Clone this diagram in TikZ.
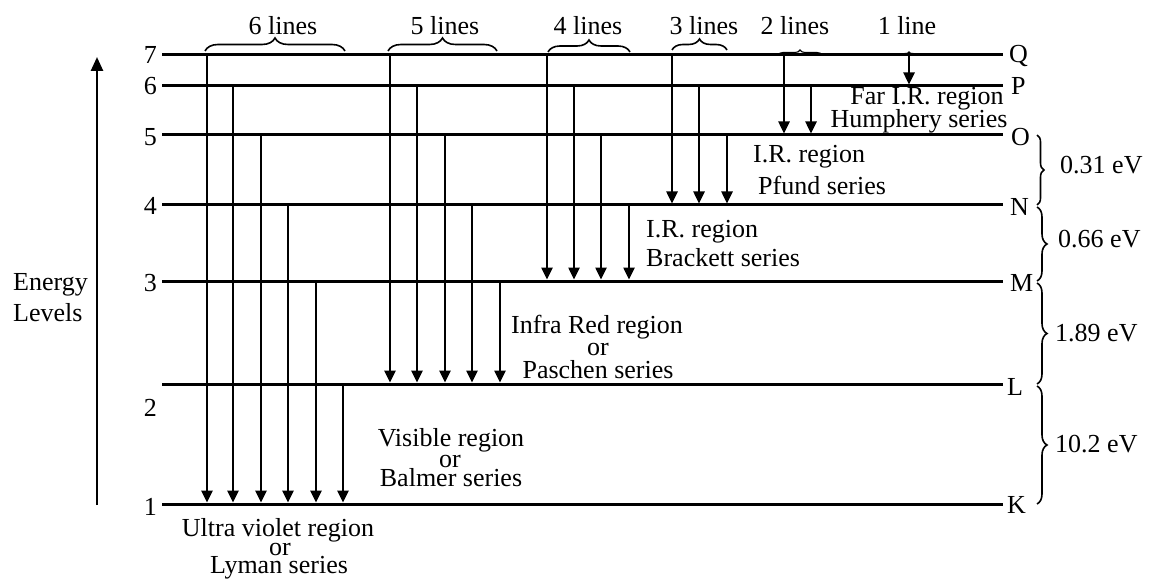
\documentclass[tikz,border=0pt]{standalone}
\usepackage{fontspec}
\setmainfont{Liberation Serif}
\usetikzlibrary{arrows.meta,decorations.pathreplacing}
\begin{document}
\begin{tikzpicture}[x=1pt,y=-1pt,
  txt/.style={inner sep=0pt,font=\fontsize{26}{28}\selectfont},
  lvl/.style={line width=3pt},
  arr/.style={line width=2.5pt,-{Triangle[length=12pt,width=11pt]}},
  axisarr/.style={line width=2.5pt,-{Triangle[length=14pt,width=12pt]}},
  brc/.style={line width=1.6pt,decorate,decoration={brace,amplitude=#1}},
  sbrc/.style={line width=1.1pt,decorate,decoration={brace,amplitude=#1}}]
\useasboundingbox (0,0) rectangle (1151,580);
% level coordinates
\foreach \n/\y in {1/504,2/384,3/281,4/205,5/135,6/86,7/55}{
  \coordinate (l\n) at (162,\y);
  \coordinate (r\n) at (1003,\y);
  \draw[lvl] (l\n) -- (r\n);
}
% left numbers
\foreach \n/\y in {7/55,6/86,5/137,4/206,3/283,2/408,1/507}{
  \node[txt,anchor=east] (num\n) at (157,\y) {\n};
}
% right letters
\foreach \n/\t/\x/\y in {7/Q/1009/56,6/P/1011/86,5/O/1011/137,4/N/1010/207,3/M/1010/283,2/L/1007/387,1/K/1007/505}{
  \node[txt,anchor=west] (let\n) at (\x,\y) {\t};
}
% energy axis
\coordinate (ax0) at (97,505);
\coordinate (ax1) at (97,57);
\draw[axisarr] (ax0) -- (ax1);
\node[txt,anchor=west] (en1) at (13,285) {Energy};
\node[txt,anchor=west] (en2) at (13,313) {Levels};
% transitions: x / from level / to level
\foreach \x/\a/\b/\ye in {
  207/7/1/502.5,233/6/1/502.5,261/5/1/502.5,288/4/1/502.5,316/3/1/502.5,343/2/1/502.5,
  390/7/2/382.5,417/6/2/382.5,445/5/2/382.5,472/4/2/382.5,500/3/2/382.5,
  547/7/3/279.5,574/6/3/279.5,601/5/3/279.5,629/4/3/279.5,
  672/7/4/203.5,699/6/4/203.5,727/5/4/203.5,
  784/7/5/133.5,811/6/5/133.5,
  909/7/6/84.5}{
  \coordinate (s\x) at (\x,0 |- l\a);
  \coordinate (e\x) at (\x,\ye);
  \draw[arr] (s\x) -- (e\x);
}
% top braces
\draw[brc=13] (205,51) -- (345,51);
\draw[brc=13] (388,51) -- (497,51);
\draw[brc=12] (548,52) -- (630,52);
\draw[brc=11] (672,50) -- (727,50);
\draw[sbrc=5] (778,55) -- (822,55);
\draw[sbrc=3] (902,55) -- (916,55);
\node[txt] (t6) at (283,26) {6 lines};
\node[txt] (t5) at (445,26) {5 lines};
\node[txt] (t4) at (588,26) {4 lines};
\node[txt] (t3) at (704,26) {3 lines};
\node[txt] (t2) at (795,26) {2 lines};
\node[txt] (t1) at (907,26) {1 line};
% right braces
\draw[brc=7] (1037,135) -- (1037,205);
\draw[brc=10] (1037,207) -- (1037,281);
\draw[brc=10] (1037,283) -- (1037,384);
\draw[brc=10] (1037,386) -- (1037,504);
\node[txt,anchor=west] (ev1) at (1060,165) {0.31 eV};
\node[txt,anchor=west] (ev2) at (1058,239) {0.66 eV};
\node[txt,anchor=west] (ev3) at (1055,333) {1.89 eV};
\node[txt,anchor=west] (ev4) at (1055,444) {10.2 eV};
% series labels
\node[txt] (hu1) at (927,99) {Far I.R. region};
\node[txt] (hu2) at (919,121) {Humphery series};
\node[txt,anchor=west] (pf1) at (753,157) {I.R. region};
\node[txt,anchor=west] (pf2) at (758,185) {Pfund series};
\node[txt,anchor=west] (br1) at (646,232) {I.R. region};
\node[txt,anchor=west] (br2) at (646,258) {Brackett series};
\node[txt] (pa1) at (597,327) {Infra Red region};
\node[txt] (pa2) at (598,350) {or};
\node[txt] (pa3) at (598,370) {Paschen series};
\node[txt] (ba1) at (451,440) {Visible region};
\node[txt] (ba2) at (450,461) {or};
\node[txt] (ba3) at (451,478) {Balmer series};
\node[txt] (ly1) at (278,530) {Ultra violet region};
\node[txt] (ly2) at (280,549) {or};
\node[txt] (ly3) at (279,568) {Lyman series};
\end{tikzpicture}
\end{document}
